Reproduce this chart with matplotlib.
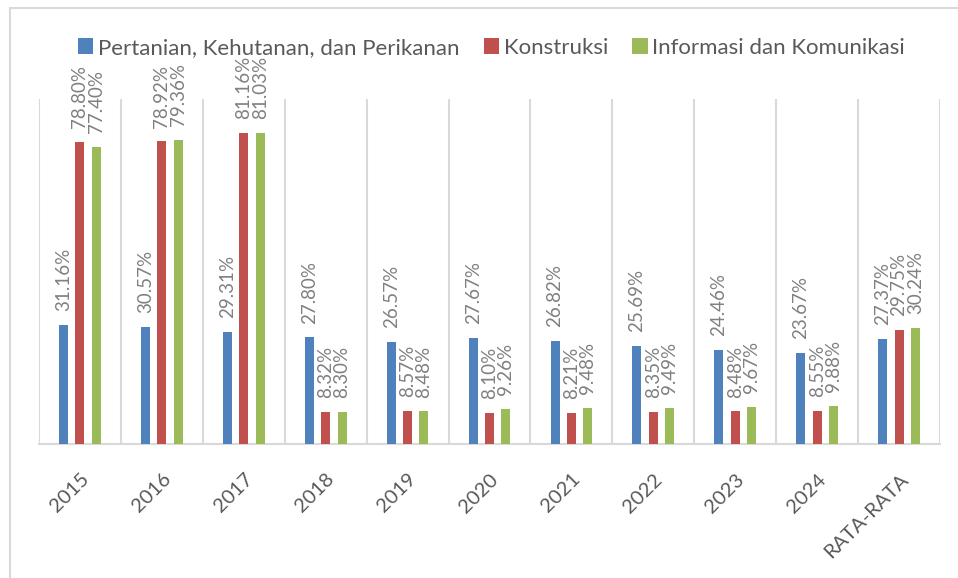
import numpy as np
import matplotlib
matplotlib.use("Agg")
import matplotlib.pyplot as plt
from matplotlib.patches import Rectangle

plt.rcParams["font.family"] = ["Lato", "DejaVu Sans"]

categories = ["2015", "2016", "2017", "2018", "2019", "2020", "2021",
              "2022", "2023", "2024", "RATA-RATA"]
pertanian = [31.16, 30.57, 29.31, 27.80, 26.57, 27.67, 26.82, 25.69, 24.46, 23.67, 27.37]
konstruksi = [78.80, 78.92, 81.16, 8.32, 8.57, 8.10, 8.21, 8.35, 8.48, 8.55, 29.75]
informasi = [77.40, 79.36, 81.03, 8.30, 8.48, 9.26, 9.48, 9.49, 9.67, 9.88, 30.24]

series = [
    ("Pertanian, Kehutanan, dan Perikanan", pertanian, "#4F81BD"),
    ("Konstruksi", konstruksi, "#C0504D"),
    ("Informasi dan Komunikasi", informasi, "#9BBB59"),
]

GRID = "#d9d9d9"
LABEL = "#808080"
TEXT = "#595959"

fig = plt.figure(figsize=(9.58, 5.78), dpi=100)
ax = fig.add_axes([39 / 958, 134 / 578, 901 / 958, 345 / 578])

x = np.arange(len(categories))
width = 0.11
offsets = [-0.2, 0.0, 0.2]

for (name, vals, color), off in zip(series, offsets):
    bars = ax.bar(x + off, vals, width, color=color, label=name, zorder=3)
    for b, v in zip(bars, vals):
        ax.annotate(f"{v:.2f}%", (b.get_x() + b.get_width() / 2, v),
                    xytext=(0, 10), textcoords="offset points",
                    rotation=90, ha="center", va="bottom",
                    fontsize=13.5, color=LABEL, annotation_clip=False)

ax.set_xlim(-0.5, len(categories) - 0.5)
ax.set_ylim(0, 90)
ax.set_yticks([])
ax.set_xticks(x)
ax.set_xticklabels(categories, rotation=45, ha="right", rotation_mode="anchor",
                   fontsize=14.5, color=TEXT)
ax.tick_params(axis="x", length=0, pad=19)
ax.set_xticks(np.arange(-0.5, len(categories)), minor=True)
ax.tick_params(axis="x", which="minor", length=0)
ax.grid(axis="x", which="minor", color=GRID, lw=1.5, zorder=0)
ax.grid(axis="x", which="major", visible=False)
for s in ["top", "right", "left"]:
    ax.spines[s].set_visible(False)
ax.spines["bottom"].set_color(GRID)
ax.spines["bottom"].set_linewidth(1.5)

leg = fig.legend(loc="center", bbox_to_anchor=(0.513, 0.917), ncol=3,
                 frameon=False, fontsize=16, handlelength=0.7, handleheight=0.7,
                 handletextpad=0.2, columnspacing=1.1)
for t in leg.get_texts():
    t.set_color(TEXT)

# outer chart frame
fig.add_artist(Rectangle((9.5 / 958, -0.1), 2, 1.1 - 8.5 / 578,
                         transform=fig.transFigure, fill=False,
                         edgecolor=GRID, lw=1.5))

fig.savefig("out.png", dpi=100)
